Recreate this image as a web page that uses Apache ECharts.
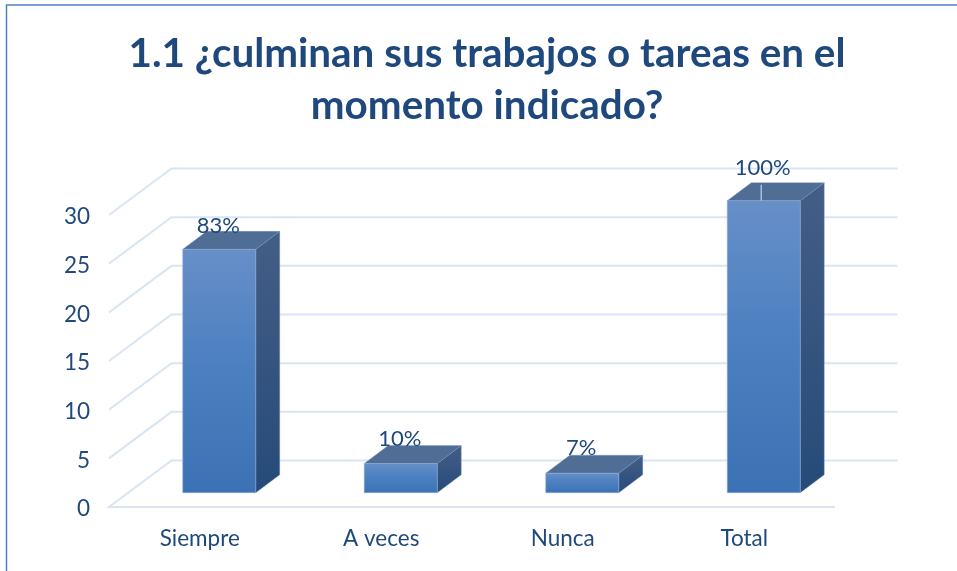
<!DOCTYPE html>
<html>
<head>
<meta charset="utf-8">
<style>html,body{margin:0;padding:0;background:#fff}#c{width:957px;height:571px}</style>
<script src="https://cdn.jsdelivr.net/npm/echarts@6/dist/echarts.min.js"></script>
</head>
<body>
<div id="c"></div>
<script>
const titleText = '1.1 ¿culminan sus trabajos o tareas en el\nmomento indicado?';
const categories = ['Siempre', 'A veces', 'Nunca', 'Total'];
const values = [25, 3, 2, 30];
const percentLabels = ['83%', '10%', '7%', '100%'];
const yTicks = [0, 5, 10, 15, 20, 25, 30];

// oblique projection of the 3D box, in pixels
const wallDepth = [62.5, -46.5];
const barInset = [19.5, -14.3];
const barDepth = [24, -18];
const barWidth = 73;
const labelLift = [23, 25, 25, 33];
const leaderCategory = 'Total';

const textColor = '#1F497D';
const gridColor = '#DAE5F3';
const font = 'Lato';
const vGrad = (stops) => new echarts.graphic.LinearGradient(0, 0, 0, 1,
  stops.map((c, i) => ({ offset: i / (stops.length - 1), color: c })));

const chart = echarts.init(document.getElementById('c'), null, { renderer: 'canvas' });

function renderWall(params, api) {
  const cs = params.coordSys;
  const y = api.coord([0, api.value(0)])[1];
  const x0 = cs.x, x1 = cs.x + cs.width;
  const [dx, dy] = wallDepth;
  const pts = api.value(0) === 0
    ? [[x1, y], [x0, y], [x0 + dx, y + dy], [x1 + dx, y + dy]]
    : [[x0, y], [x0 + dx, y + dy], [x1 + dx, y + dy]];
  return {
    type: 'polyline',
    shape: { points: pts },
    style: { stroke: gridColor, lineWidth: 2, fill: 'none' }
  };
}

function renderBar(params, api) {
  const idx = api.value(0);
  const top = api.coord([idx, api.value(1)]);
  const base = api.coord([idx, 0]);
  const xl = top[0] - barWidth / 2 + barInset[0];
  const xr = xl + barWidth;
  const yt = top[1] + barInset[1];
  const yb = base[1] + barInset[1];
  const [dx, dy] = barDepth;
  const edge = 'rgba(140,170,215,0.55)';
  const children = [
    { type: 'polygon', shape: { points: [[xr, yt], [xr + dx, yt + dy], [xr + dx, yb + dy], [xr, yb]] },
      style: { fill: vGrad(['#445E86', '#264B79']), stroke: 'rgba(120,150,195,0.35)', lineWidth: 1 } },
    { type: 'polygon', shape: { points: [[xl, yt], [xl + dx, yt + dy], [xr + dx, yt + dy], [xr, yt]] },
      style: { fill: '#506D96', stroke: 'rgba(120,150,195,0.35)', lineWidth: 1 } },
    { type: 'rect', shape: { x: xl, y: yt, width: barWidth, height: yb - yt },
      style: { fill: vGrad(['#678FC8', '#4A7FC0', '#3C71B3']), stroke: edge, lineWidth: 1 } }
  ];
  const cx = (xl + xr) / 2;
  if (categories[idx] === leaderCategory) {
    children.push({ type: 'line', shape: { x1: cx - 2.5, y1: yt - 16, x2: cx - 2.5, y2: yt },
      style: { stroke: '#A6BFDF', lineWidth: 1.5 } });
  }
  children.push({ type: 'text', style: {
    x: cx - 1, y: yt - labelLift[idx], text: percentLabels[idx],
    fill: textColor, font: '22px ' + font, align: 'center', verticalAlign: 'middle'
  } });
  return { type: 'group', children };
}

chart.setOption({
  animation: false,
  backgroundColor: '#fff',
  title: {
    text: titleText, left: 482, top: 23, textAlign: 'center',
    textStyle: { color: textColor, fontFamily: font, fontWeight: 'bold', fontSize: 40.4, lineHeight: 52 }
  },
  graphic: [{ type: 'rect', shape: { x: 6.5, y: 5, width: 1200, height: 900 },
    style: { fill: 'none', stroke: '#4F81BD', lineWidth: 1.5 } }],
  grid: { left: 109, right: 122, top: 215, bottom: 64 },
  xAxis: {
    type: 'category', data: categories,
    axisLine: { show: false }, axisTick: { show: false }, splitLine: { show: false },
    axisLabel: { color: textColor, fontFamily: font, fontSize: 22.5, margin: 20 }
  },
  yAxis: {
    type: 'value', min: 0, max: 30, interval: 5,
    axisLine: { show: false }, axisTick: { show: false }, splitLine: { show: false },
    axisLabel: {
      margin: 19, formatter: '{t|{value}}',
      rich: { t: { color: textColor, fontFamily: font, fontSize: 22.5, padding: [4, 0, 0, 0] } }
    }
  },
  series: [
    { type: 'custom', renderItem: renderWall, data: yTicks.map(v => [v]), encode: { y: 0 }, silent: true, clip: false, z: 1 },
    { type: 'custom', renderItem: renderBar, data: values.map((v, i) => [i, v]), encode: { x: 0, y: 1 }, silent: true, clip: false, z: 2 }
  ]
});
</script>
</body>
</html>
